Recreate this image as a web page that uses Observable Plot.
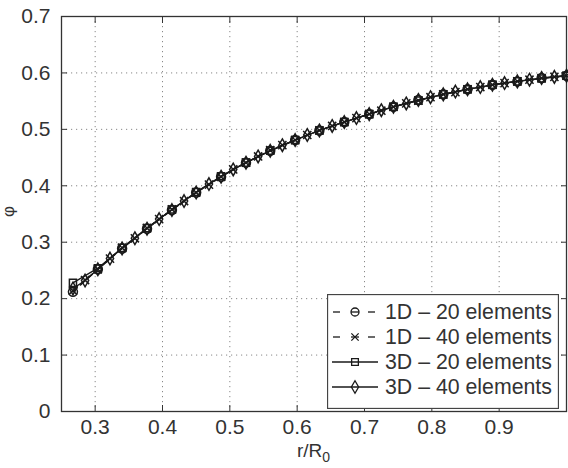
<!DOCTYPE html>
<html><head><meta charset="utf-8">
<script src="https://cdn.jsdelivr.net/npm/d3@7"></script>
<script src="https://cdn.jsdelivr.net/npm/@observablehq/plot@0.6"></script>
<style>
body{margin:0;background:#fff;}
#wrap{position:relative;width:568px;height:468px;font-family:"Liberation Sans",Arial,sans-serif;color:#333;}
#xlab{position:absolute;left:61px;width:505px;top:441px;text-align:center;font-size:19px;line-height:19px;}
#xlab sub{font-size:14px;vertical-align:-5px;line-height:0;}
#ylab{position:absolute;left:1px;top:203px;font-size:17px;line-height:17px;transform:rotate(-90deg);transform-origin:center;width:14px;height:17px;text-align:center;}
</style></head><body><div id="wrap"><div id="xlab">r/R<sub>0</sub></div><div id="ylab">φ</div></div>
<script>
// r/R0 node positions
const r40 = [0.267,0.285,0.304,0.322,0.340,0.359,0.377,0.395,0.414,0.432,0.450,0.469,0.487,0.505,0.524,0.542,0.560,0.578,0.597,0.615,0.633,0.652,0.670,0.688,0.707,0.725,0.743,0.762,0.780,0.798,0.817,0.835,0.853,0.872,0.890,0.908,0.927,0.945,0.963,0.982,1.000];
const r20 = [0.267,0.304,0.340,0.377,0.414,0.450,0.487,0.524,0.560,0.597,0.633,0.670,0.707,0.743,0.780,0.817,0.853,0.890,0.927,0.963,1.000];
// phi values
const phi1D20 = [0.212,0.252,0.289,0.324,0.357,0.388,0.416,0.441,0.462,0.481,0.498,0.513,0.527,0.540,0.552,0.562,0.571,0.579,0.585,0.591,0.595];
const phi1D40 = [0.214,0.233,0.252,0.271,0.290,0.307,0.325,0.341,0.358,0.373,0.388,0.402,0.416,0.429,0.441,0.452,0.463,0.472,0.481,0.490,0.498,0.506,0.513,0.520,0.527,0.533,0.540,0.546,0.551,0.557,0.562,0.566,0.571,0.575,0.579,0.582,0.585,0.588,0.591,0.593,0.595];
const phi3D20 = [0.228,0.254,0.290,0.325,0.358,0.389,0.417,0.441,0.462,0.481,0.498,0.513,0.527,0.540,0.551,0.562,0.571,0.579,0.585,0.590,0.595];
const phi3D40 = [0.218,0.232,0.252,0.271,0.289,0.307,0.324,0.341,0.357,0.373,0.388,0.403,0.416,0.429,0.441,0.452,0.462,0.472,0.481,0.490,0.498,0.506,0.513,0.520,0.527,0.534,0.540,0.546,0.552,0.557,0.562,0.567,0.571,0.575,0.579,0.582,0.585,0.588,0.591,0.593,0.595];
const xTicks = [0.3,0.4,0.5,0.6,0.7,0.8,0.9];
const yTicks = [0,0.1,0.2,0.3,0.4,0.5,0.6,0.7];
const seriesNames = ["1D \u2013 20 elements","1D \u2013 40 elements","3D \u2013 20 elements","3D \u2013 40 elements"];

const mk = (rs, ys) => rs.map((r, i) => ({r, phi: ys[i]}));
const d1D20 = mk(r20, phi1D20), d1D40 = mk(r40, phi1D40), d3D20 = mk(r20, phi3D20), d3D40 = mk(r40, phi3D40);

const ink = "#1a1a1a";
const sw = 1.5;
const gridStyle = {stroke: "#888", strokeOpacity: 1, strokeWidth: 1, strokeDasharray: "1.2,3.8"};
const chart = Plot.plot({
  width: 568, height: 468,
  marginLeft: 61, marginRight: 2, marginTop: 16, marginBottom: 57,
  style: {fontFamily: "'Liberation Sans', Arial, sans-serif", fontSize: "21px", color: "#333", background: "#fff", overflow: "visible"},
  x: {domain: [0.25, 1.0]},
  y: {domain: [0, 0.7]},
  marks: [
    Plot.gridX(xTicks, gridStyle),
    Plot.gridY(yTicks.filter(v => v > 0 && v < 0.7), gridStyle),
    Plot.frame({stroke: "#333", strokeWidth: 1.3}),
    Plot.axisX(xTicks, {anchor: "bottom", tickSize: -6, tickPadding: 14, label: null, tickFormat: d => d.toFixed(1)}),
    Plot.axisX(xTicks, {anchor: "top", tickSize: -6, label: null, tickFormat: () => ""}),
    Plot.axisY(yTicks, {anchor: "left", tickSize: -6, tickPadding: 17, label: null, tickFormat: d => d === 0 ? "0" : d.toFixed(1)}),
    Plot.axisY(yTicks, {anchor: "right", tickSize: -6, label: null, tickFormat: () => ""}),
    Plot.line(d1D20, {x: "r", y: "phi", stroke: ink, strokeWidth: 1.3, strokeDasharray: "6,4"}),
    Plot.line(d1D40, {x: "r", y: "phi", stroke: ink, strokeWidth: 1.3, strokeDasharray: "6,4"}),
    Plot.line(d3D20, {x: "r", y: "phi", stroke: ink, strokeWidth: 1.3}),
    Plot.line(d3D40, {x: "r", y: "phi", stroke: ink, strokeWidth: 1.3}),
    Plot.dot(d1D20, {x: "r", y: "phi", symbol: "circle", r: 4.5, stroke: ink, fill: "none", strokeWidth: sw}),
    Plot.dot(d1D40, {x: "r", y: "phi", symbol: "times", r: 3.8, stroke: ink, fill: "none", strokeWidth: sw}),
    Plot.dot(d3D20, {x: "r", y: "phi", symbol: "square", r: 4, stroke: ink, fill: "none", strokeWidth: sw}),
    Plot.dot(d3D40, {x: "r", y: "phi", symbol: "diamond", r: 3.8, stroke: ink, fill: "none", strokeWidth: sw})
  ]
});
document.getElementById("wrap").prepend(chart);

// legend (inside the axes, lower right)
const legendSymbols = [d3.symbolCircle, d3.symbolTimes, d3.symbolSquare, d3.symbolDiamond];
const legendSizes = [Math.PI*4*4, Math.PI*3.4*3.4, Math.PI*3.8*3.8, Math.PI*3.8*3.8];
const legendDashed = [true, true, false, false];
const leg = d3.select("#wrap").append("svg")
  .style("position", "absolute").style("left", "327px").style("top", "294px")
  .attr("width", 232).attr("height", 115);
leg.append("rect").attr("x", 0.5).attr("y", 0.5).attr("width", 231).attr("height", 114)
  .attr("fill", "#fff").attr("stroke", "#444").attr("stroke-width", 1.3);
seriesNames.forEach((name, i) => {
  const cy = 18 + 25 * i;
  const g = leg.append("g");
  if (legendDashed[i]) {
    [[6, 13], [24, 32], [41, 48]].forEach(([a, b]) =>
      g.append("line").attr("x1", a).attr("x2", b).attr("y1", cy).attr("y2", cy).attr("stroke", ink).attr("stroke-width", 1.3));
  } else {
    g.append("line").attr("x1", 5).attr("x2", 51).attr("y1", cy).attr("y2", cy).attr("stroke", ink).attr("stroke-width", 1.3);
  }
  g.append("path").attr("d", d3.symbol(legendSymbols[i], legendSizes[i])())
    .attr("transform", `translate(28,${cy})`).attr("fill", "none").attr("stroke", ink).attr("stroke-width", 1.3);
  g.append("text").attr("x", 58).attr("y", cy).attr("dy", "0.35em")
    .attr("font-size", 21.3).attr("fill", "#333").text(name);
});
</script>
</body></html>
